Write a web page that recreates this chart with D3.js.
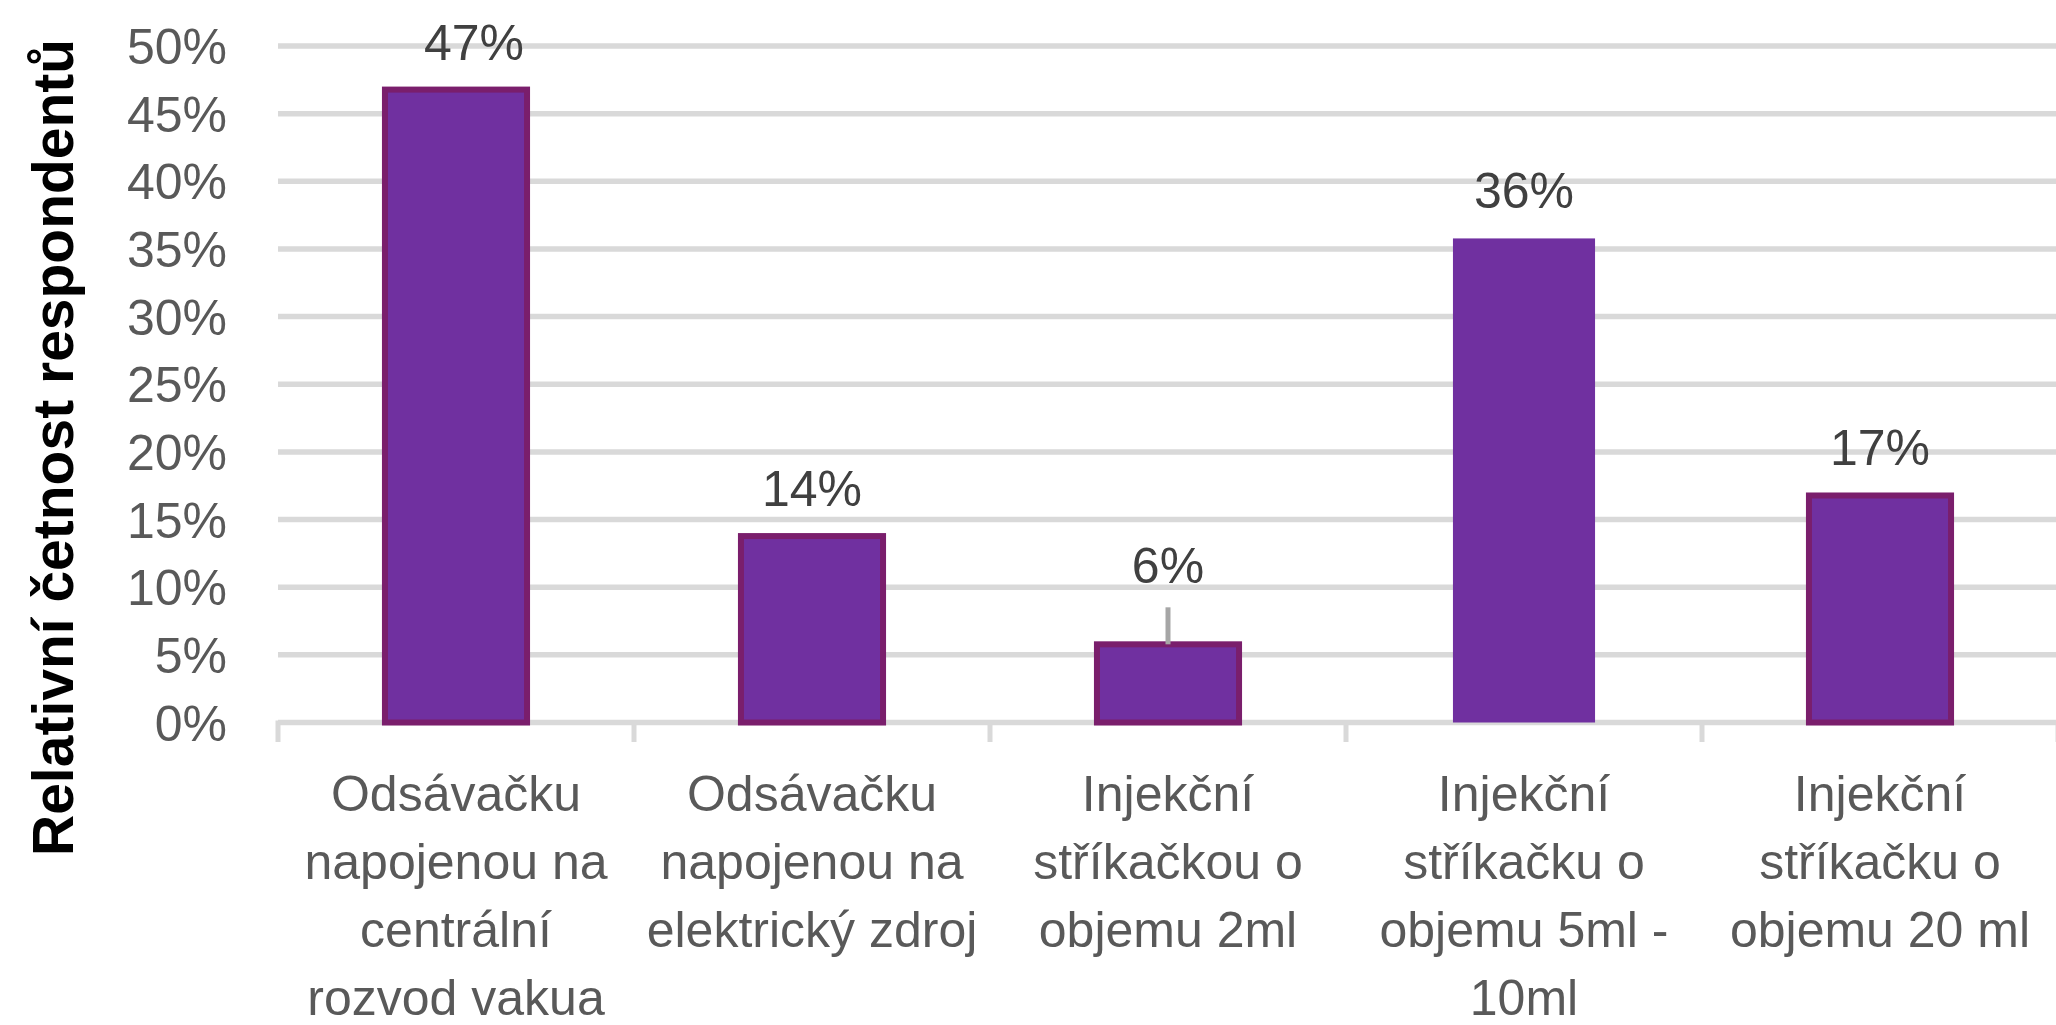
<!DOCTYPE html>
<html>
<head>
<meta charset="utf-8">
<script src="https://cdn.jsdelivr.net/npm/d3@7"></script>
<style>
  html, body { margin: 0; padding: 0; background: #fff; overflow: hidden; }
  svg { display: block; }
</style>
</head>
<body>
<svg id="chart" width="2056" height="1025"></svg>
<script>
// ---- data ----
const categories = [
  "Odsávačku\nnapojenou na\ncentrální\nrozvod vakua",
  "Odsávačku\nnapojenou na\nelektrický zdroj",
  "Injekční\nstříkačkou o\nobjemu 2ml",
  "Injekční\nstříkačku o\nobjemu 5ml -\n10ml",
  "Injekční\nstříkačku o\nobjemu 20 ml"
];
const values = [47, 14, 6, 36, 17];
const yTicks = [0, 5, 10, 15, 20, 25, 30, 35, 40, 45, 50];
const yTitle = "Relativní četnost respondentů";

// ---- layout / style ----
const W = 2056, H = 1025;
const plot = { left: 278, right: 2058, top: 46, bottom: 722.5 };
const font = "'Liberation Sans', Arial, sans-serif";
const labelNudge = [[18, 0], [0, 0], [0, -31], [0, 0], [0, 0]];
const outlined = [true, true, true, false, true];

const svg = d3.select("#chart");

const x = d3.scaleBand()
  .domain(categories)
  .range([plot.left, plot.right])
  .paddingInner(0.584)
  .paddingOuter(0.292);

const y = d3.scaleLinear()
  .domain([0, 50])
  .range([plot.bottom, plot.top]);

// gridlines
svg.append("g").selectAll("line")
  .data(yTicks)
  .join("line")
  .attr("x1", plot.left)
  .attr("x2", W)
  .attr("y1", d => y(d))
  .attr("y2", d => y(d))
  .attr("stroke", "#D9D9D9")
  .attr("stroke-width", 5.5);

// y axis tick labels
const yAxis = d3.axisLeft(y).tickValues(yTicks).tickFormat(d => d + "%").tickSize(0).tickPadding(0);
const gy = svg.append("g").attr("transform", `translate(227,0)`).call(yAxis);
gy.select(".domain").remove();
gy.selectAll("text")
  .attr("font-family", font)
  .attr("font-size", 50)
  .attr("fill", "#595959")
  .attr("dy", "0.35em");

// category tick marks
const bounds = categories.map((c, i) => plot.left + i * x.step()).concat([plot.left + categories.length * x.step()]);
svg.append("g").selectAll("line")
  .data(bounds)
  .join("line")
  .attr("x1", d => d).attr("x2", d => d)
  .attr("y1", plot.bottom - 2).attr("y2", 742)
  .attr("stroke", "#D9D9D9")
  .attr("stroke-width", 5);

// bars
svg.append("g").selectAll("rect")
  .data(values)
  .join("rect")
  .attr("x", (d, i) => x(categories[i]) + 3)
  .attr("y", d => y(d) + 3)
  .attr("width", x.bandwidth() - 6)
  .attr("height", d => y(0) - y(d) - 3)
  .attr("fill", "#7030A0")
  .attr("stroke", (d, i) => outlined[i] ? "#7A1E6C" : "none")
  .attr("stroke-width", 6);

// leader line for nudged label
svg.append("g").selectAll("line")
  .data(values.map((v, i) => ({ v, i })).filter(d => labelNudge[d.i][1] < -10))
  .join("line")
  .attr("x1", d => x(categories[d.i]) + x.bandwidth() / 2)
  .attr("x2", d => x(categories[d.i]) + x.bandwidth() / 2)
  .attr("y1", d => y(d.v) - 27 + labelNudge[d.i][1] + 24)
  .attr("y2", d => y(d.v) + 3)
  .attr("stroke", "#A6A6A6")
  .attr("stroke-width", 5);

// data labels
svg.append("g").selectAll("text")
  .data(values)
  .join("text")
  .attr("x", (d, i) => x(categories[i]) + x.bandwidth() / 2 + labelNudge[i][0])
  .attr("y", (d, i) => y(d) - 27 + labelNudge[i][1])
  .attr("text-anchor", "middle")
  .attr("font-family", font)
  .attr("font-size", 50)
  .attr("fill", "#404040")
  .text(d => d + "%");

// category labels
const catG = svg.append("g").selectAll("text")
  .data(categories)
  .join("text")
  .attr("text-anchor", "middle")
  .attr("font-family", font)
  .attr("font-size", 50)
  .attr("fill", "#595959")
  .attr("x", d => x(d) + x.bandwidth() / 2)
  .attr("y", 811);
catG.selectAll("tspan")
  .data(d => d.split("\n").map(t => ({ t, c: d })))
  .join("tspan")
  .attr("x", d => x(d.c) + x.bandwidth() / 2)
  .attr("dy", (d, i) => i === 0 ? 0 : 68)
  .text(d => d.t);

// y axis title
svg.append("text")
  .attr("transform", "translate(73,856) rotate(-90)")
  .attr("text-anchor", "start")
  .attr("font-family", font)
  .attr("font-size", 57)
  .attr("font-weight", "bold")
  .attr("fill", "#000")
  .text(yTitle);
</script>
</body>
</html>
